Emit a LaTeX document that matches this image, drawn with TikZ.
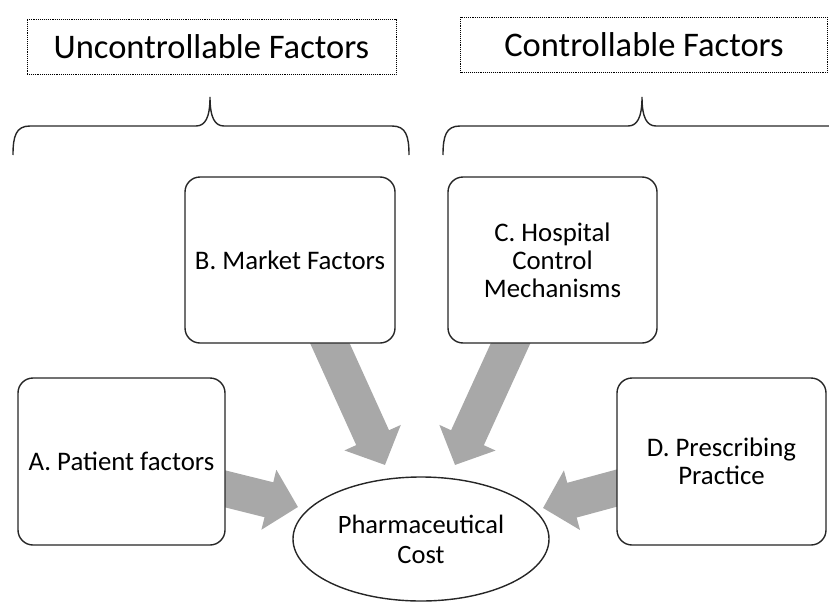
\documentclass[tikz,border=0pt]{standalone}
\usepackage{fontspec}
\setmainfont{Carlito}
\usetikzlibrary{arrows.meta,calc,shapes.geometric,backgrounds}

\tikzset{
  titlebox/.style={draw=black, densely dotted, line width=0.9pt, inner sep=0pt,
    font=\fontsize{34.5}{37}\selectfont},
  factorbox/.style={draw=black!85, line width=1.4pt, rounded corners=15pt, fill=white,
    align=center, inner sep=0pt, font=\fontsize{26.8}{28}\selectfont},
  costnode/.style={ellipse, draw=black!85, line width=1.4pt, fill=white, inner sep=0pt,
    align=center, font=\fontsize{26.5}{30}\selectfont},
  bigarrow/.style={draw=black!34, line width=36pt,
    -{Triangle[length=30pt,width=60pt]}},
  bracepath/.style={draw=black!85, line width=1.4pt}
}

\begin{document}
\begin{tikzpicture}[x=1pt,y=-1pt]
\useasboundingbox (0,0) rectangle (829,602);
\clip (0,0) rectangle (829,602);

% group labels
\node[titlebox, minimum width=369pt, minimum height=55pt] (unc) at (211.5,46.5) {Uncontrollable Factors};
\node[titlebox, minimum width=367pt, minimum height=55pt] (con) at (644,45) {Controllable Factors};

% curly braces under the group labels
\draw[bracepath] (13,155) .. controls (13,136) and (16,126) .. (30,126)
  -- (196,126) .. controls (205,126) and (210,118) .. (210,97)
  .. controls (210,118) and (215,126) .. (224,126)
  -- (392,126) .. controls (406,126) and (409,136) .. (409,155);
\draw[bracepath] (443,155) .. controls (443,136) and (446,126) .. (460,126)
  -- (628,126) .. controls (637,126) and (642,118) .. (642,97)
  .. controls (642,118) and (647,126) .. (656,126)
  -- (835,126);

% factor boxes
\node[factorbox, minimum width=210pt, minimum height=166pt] (B) at (290,260) {B. Market Factors};
\node[factorbox, minimum width=209pt, minimum height=166pt] (C) at (552.5,260) {C. Hospital\\Control\\Mechanisms};
\node[factorbox, minimum width=207pt, minimum height=167pt] (A) at (121.5,461.5) {A. Patient factors};
\node[factorbox, minimum width=209pt, minimum height=167pt] (D) at (721.5,461.5) {D. Prescribing\\Practice};

% outcome
\node[costnode, minimum width=256pt, minimum height=124pt] (P) at (421,539) {Pharmaceutical\\Cost};

% arrow tips just outside the ellipse
\coordinate (tA) at (298,507);
\coordinate (tB) at (385,465);
\coordinate (tC) at (455,465);
\coordinate (tD) at (543,508);

\begin{pgfonlayer}{background}
  \draw[bigarrow] ($(A.east)+(-10,25)$) -- (tA);
  \draw[bigarrow] ($(B.south)+(36,-9)$) -- (tB);
  \draw[bigarrow] ($(C.south)+(-38,-9)$) -- (tC);
  \draw[bigarrow] ($(D.west)+(10,24)$) -- (tD);
\end{pgfonlayer}
\end{tikzpicture}
\end{document}
